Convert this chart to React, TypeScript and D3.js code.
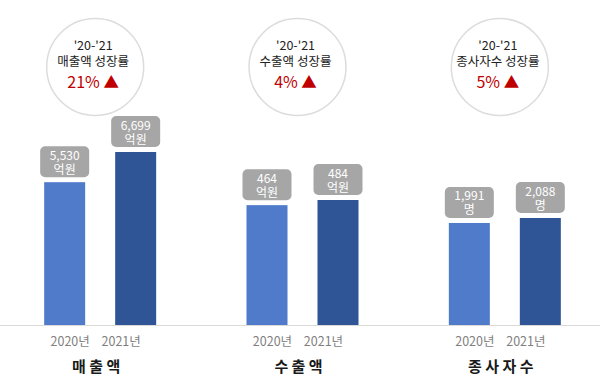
import React from "react";
import * as d3 from "d3";

const groups = ["매출액", "수출액", "종사자수"];
const groupLabels = ["매 출 액", "수 출 액", "종 사 자 수"];
const years = ["2020년", "2021년"];
const values2020 = [5530, 464, 1991];
const values2021 = [6699, 484, 2088];
const units = ["억원", "억원", "명"];
const growthTitles = ["매출액 성장률", "수출액 성장률", "종사자수 성장률"];
const growthRates = ["21%", "4%", "5%"];
const periodLabel = "'20-'21";

const W = 600;
const H = 383;
const baseline = 325;
const groupMaxHeights = [173, 125, 107];
const colors = ["#4f7bca", "#2f5597"];
const FONT = "'Noto Sans CJK KR', 'Noto Sans', sans-serif";

export default function App() {
  const xGroup = d3.scaleBand<string>().domain(groups).range([-1, 606]);
  const fmt = d3.format(",");
  return (
    <svg
      width={W}
      height={H}
      style={{ position: "absolute", left: 0, top: 0, background: "#fff" }}
      fontFamily={FONT}
    >
      <line x1={0} x2={W} y1={baseline + 0.5} y2={baseline + 0.5} stroke="#d9d9d9" strokeWidth={1} />
      {groups.map((g, gi) => {
        const gc = (xGroup(g) as number) + xGroup.bandwidth() / 2;
        const ac = gc - 5;
        const xInner = d3
          .scaleBand<string>()
          .domain(years)
          .range([gc - 56, gc + 56])
          .paddingInner(30 / 71);
        const vals = [values2020[gi], values2021[gi]];
        const y = d3
          .scaleLinear()
          .domain([0, d3.max(vals) as number])
          .range([baseline, baseline - groupMaxHeights[gi]]);
        return (
          <g key={g}>
            <circle cx={ac} cy={67} r={48.5} fill="#fff" stroke="#dcdcdc" strokeWidth={1.5} />
            <text x={ac - 2} y={50} textAnchor="middle" fontSize={12.5} fill="#222">
              {periodLabel}
            </text>
            <text x={ac - 2} y={66} textAnchor="middle" fontSize={12.5} fill="#222">
              {growthTitles[gi]}
            </text>
            <text x={ac - 2} y={88} textAnchor="middle" fontSize={16} fill="#c00000">
              {growthRates[gi]} <tspan fontSize={15.5}>▲</tspan>
            </text>
            {years.map((yr, yi) => {
              const bx = xInner(yr) as number;
              const bw = xInner.bandwidth();
              const top = y(vals[yi]);
              const cx = bx + bw / 2;
              const boxW = 49;
              const boxH = 31;
              const boxY = top - 5 - boxH;
              return (
                <g key={yr}>
                  <rect x={bx} y={top} width={bw} height={baseline - top} fill={colors[yi]} />
                  <rect x={cx - boxW / 2} y={boxY} width={boxW} height={boxH} rx={5} fill="#a6a6a6" />
                  <text x={cx} y={boxY + 13.5} textAnchor="middle" fontSize={12} fill="#fff">
                    {fmt(vals[yi])}
                  </text>
                  <text x={cx} y={boxY + 27.5} textAnchor="middle" fontSize={12} fill="#fff">
                    {units[gi]}
                  </text>
                  <text
                    x={ac + (yi === 0 ? -25 : 26)}
                    y={346}
                    textAnchor="middle"
                    fontSize={12.5}
                    fill="#7f7f7f"
                  >
                    {yr}
                  </text>
                </g>
              );
            })}
            <text x={ac + 1} y={372} textAnchor="middle" fontSize={15} fontWeight="bold" fill="#1a1a1a">
              {groupLabels[gi]}
            </text>
          </g>
        );
      })}
    </svg>
  );
}
